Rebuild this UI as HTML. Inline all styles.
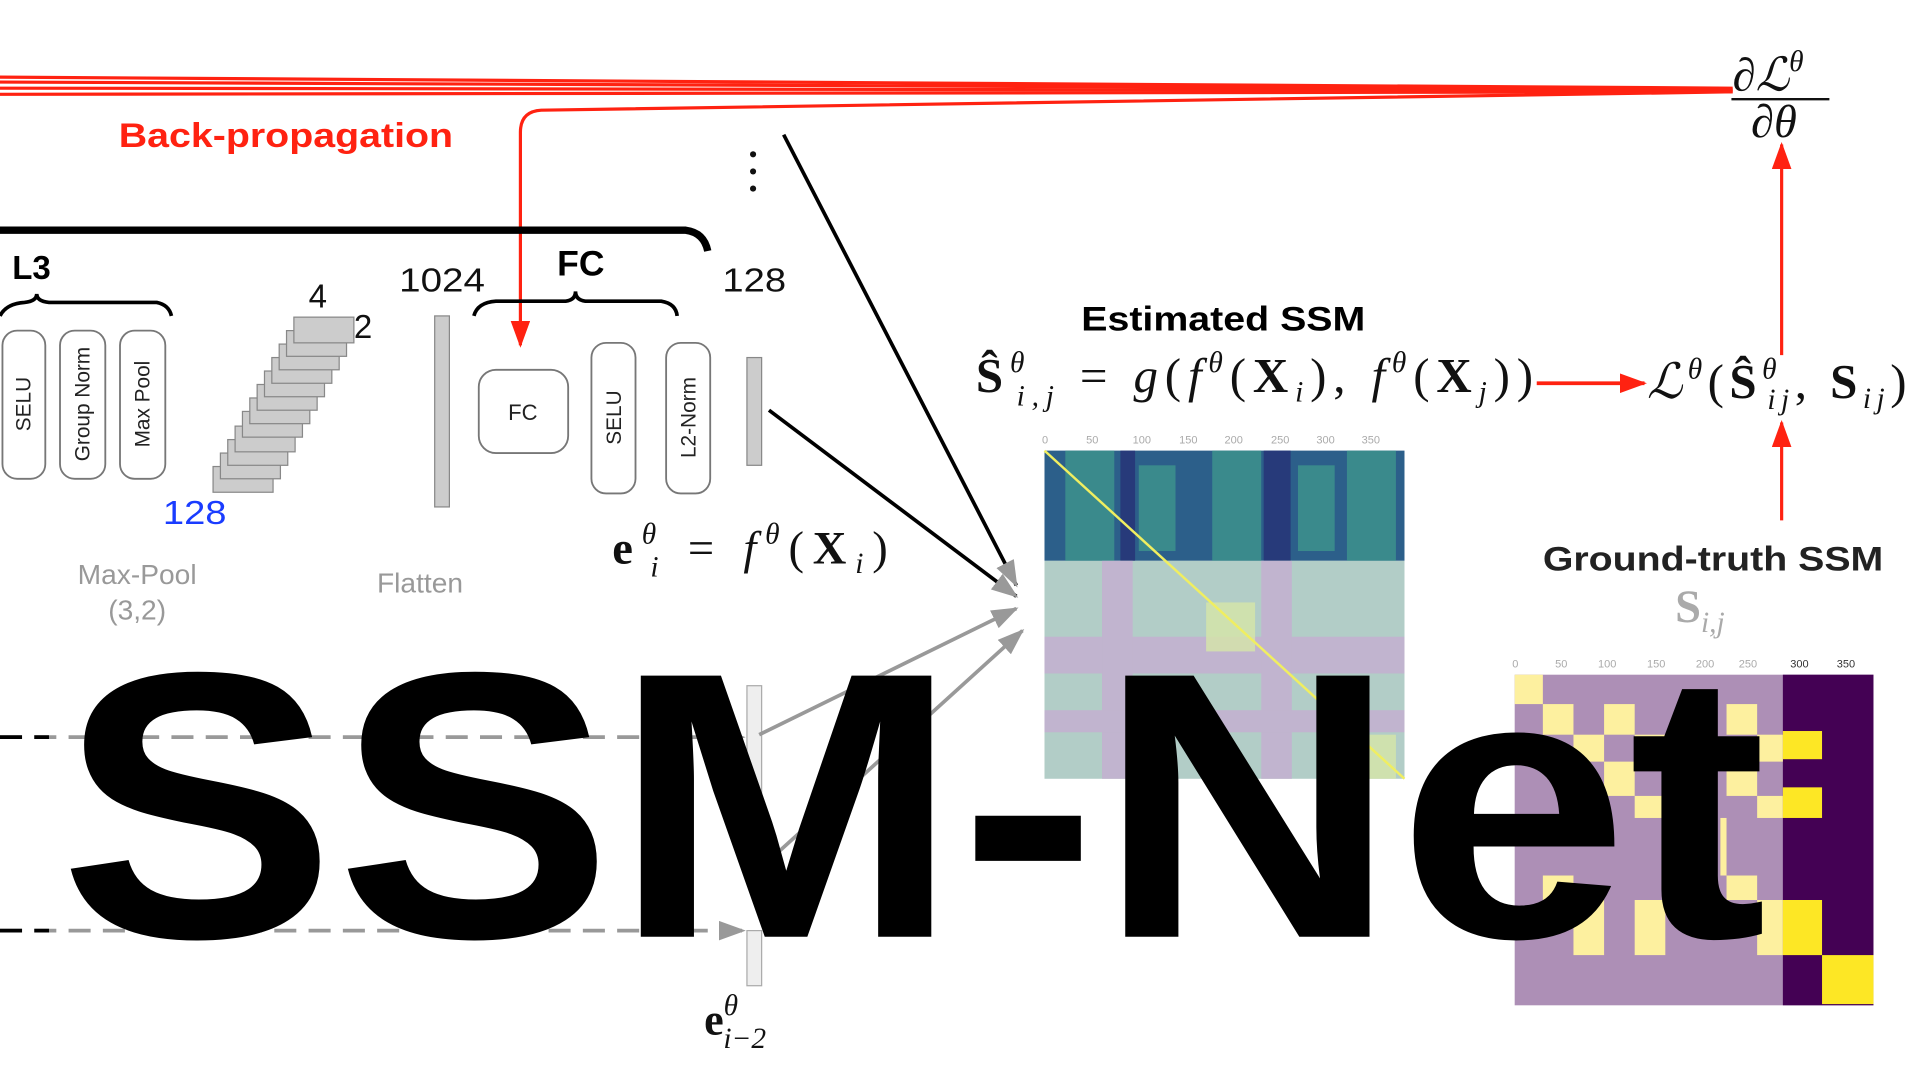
<!DOCTYPE html>
<html><head><meta charset="utf-8"><style>
html,body{margin:0;padding:0;background:#fff;width:1920px;height:1080px;overflow:hidden}
svg{display:block}
.s{font-family:"Liberation Sans",sans-serif}
.m{font-family:"Liberation Serif",serif}
</style></head><body>
<svg width="1920" height="1080" viewBox="0 0 1568 882" xmlns="http://www.w3.org/2000/svg">
<defs>
<marker id="ag" markerWidth="22" markerHeight="16" refX="20" refY="8" orient="auto" markerUnits="userSpaceOnUse"><path d="M0,0 L22,8 L0,16 z" fill="#999"/></marker>
<marker id="arr" markerWidth="22" markerHeight="16" refX="20" refY="8" orient="auto" markerUnits="userSpaceOnUse"><path d="M0,0 L22,8 L0,16 z" fill="#f21"/></marker>
</defs>
<g stroke="#f21" stroke-width="2.6" fill="none">
<path d="M0,63 L1415,72"/><path d="M0,67 L1415,73"/><path d="M0,72 L1415,74"/><path d="M0,77 L1415,75"/>
<path d="M1415,75 L442,90 Q425,91 425,108 L425,282" marker-end="url(#arr)"/>
<path d="M1455,290 L1455,118" marker-end="url(#arr)"/>
<path d="M1455,425 L1455,345" marker-end="url(#arr)"/>
<path d="M1255,313 L1343,313" marker-end="url(#arr)" stroke-width="3"/>
</g>
<text x="97" y="120" class="s" font-weight="bold" font-size="28" fill="#f21" textLength="273" lengthAdjust="spacingAndGlyphs">Back-propagation</text>
<g stroke="#000" fill="none">
<path d="M0,188 L560,188 Q575,190 578,205" stroke-width="6"/>
<path d="M0,258 Q5,248 20,247 Q30,246 30,240 Q30,246 40,247 L128,247 Q138,249 140,258" stroke-width="3"/>
<path d="M387,258 Q390,247 405,246 L462,246 Q470,245 470,238 Q470,245 478,246 L540,246 Q552,248 553,258" stroke-width="3"/>
</g>
<text x="10" y="228" class="s" font-weight="bold" font-size="27">L3</text>
<text x="455" y="225" class="s" font-weight="bold" font-size="29">FC</text>
<g fill="#fff" stroke="#777" stroke-width="1.5">
<rect x="2" y="270" width="35" height="121" rx="12"/>
<rect x="49" y="270" width="37" height="121" rx="12"/>
<rect x="98" y="270" width="37" height="121" rx="12"/>
<rect x="391" y="302" width="73" height="68" rx="14"/>
<rect x="483" y="280" width="36" height="123" rx="12"/>
<rect x="544" y="280" width="36" height="123" rx="12"/>
</g>
<g class="s" font-size="17" fill="#222" text-anchor="middle">
<text transform="translate(25,330) rotate(-90)">SELU</text>
<text transform="translate(73,330) rotate(-90)">Group Norm</text>
<text transform="translate(122,330) rotate(-90)">Max Pool</text>
<text transform="translate(507,341) rotate(-90)">SELU</text>
<text transform="translate(568,341) rotate(-90)">L2-Norm</text>
<text x="427" y="343" font-size="18">FC</text>
</g>
<g fill="#ccc" stroke="#888" stroke-width="1">
<rect x="174" y="381" width="49" height="21"/>
<rect x="180" y="370" width="49" height="21"/>
<rect x="186" y="359" width="49" height="21"/>
<rect x="192" y="348" width="49" height="21"/>
<rect x="198" y="336" width="49" height="21"/>
<rect x="204" y="325" width="49" height="21"/>
<rect x="210" y="314" width="49" height="21"/>
<rect x="216" y="303" width="49" height="21"/>
<rect x="222" y="292" width="49" height="21"/>
<rect x="228" y="281" width="49" height="21"/>
<rect x="234" y="270" width="49" height="21"/>
<rect x="240" y="259" width="49" height="21"/>
<rect x="355" y="258" width="12" height="156"/>
<rect x="610" y="292" width="12" height="88"/>
</g>
<g fill="#eee" stroke="#aaa"><rect x="610" y="560" width="12" height="88"/><rect x="610" y="760" width="12" height="45"/></g>
<g class="s" font-size="27" fill="#111">
<text x="252" y="251">4</text><text x="289" y="276">2</text>
<text x="326" y="238" textLength="70" lengthAdjust="spacingAndGlyphs">1024</text><text x="590" y="238" textLength="52" lengthAdjust="spacingAndGlyphs">128</text>
<text x="133" y="428" fill="#1a3cff" textLength="52" lengthAdjust="spacingAndGlyphs">128</text>
</g>
<g class="s" font-size="23" fill="#999" text-anchor="middle">
<text x="112" y="477">Max-Pool</text><text x="112" y="506">(3,2)</text><text x="343" y="484">Flatten</text>
</g>
<g fill="#111"><circle cx="615" cy="126" r="2.5"/><circle cx="615" cy="140" r="2.5"/><circle cx="615" cy="154" r="2.5"/></g>
<g fill="none" stroke-width="3">
<path d="M640,110 L830,478" stroke="#000" marker-end="url(#ag)"/>
<path d="M628,335 L830,487" stroke="#000" marker-end="url(#ag)"/>
<path d="M620,600 L830,497" stroke="#999" marker-end="url(#ag)"/>
<path d="M620,710 L835,515" stroke="#999" marker-end="url(#ag)"/>
<path d="M0,602 L607,602" stroke="#999" stroke-dasharray="18,10" marker-end="url(#ag)"/>
<path d="M0,760 L607,760" stroke="#999" stroke-dasharray="18,10" marker-end="url(#ag)"/>
<path d="M0,602 L40,602 M0,760 L40,760" stroke="#000" stroke-dasharray="18,10"/>
</g>
<g class="m" fill="#111">
<text x="500" y="460" font-size="38" textLength="225" lengthAdjust="spacing"><tspan font-weight="bold">e</tspan><tspan font-size="24" dy="-16" font-style="italic">θ</tspan><tspan font-size="24" dx="-12" dy="27" font-style="italic">i</tspan><tspan dy="-11"> = </tspan><tspan font-style="italic">f</tspan><tspan font-size="24" dy="-16" font-style="italic">θ</tspan><tspan dy="16">(</tspan><tspan font-weight="bold">X</tspan><tspan font-size="24" dy="8" font-style="italic">i</tspan><tspan dy="-8">)</tspan></text>
<text x="575" y="845" font-size="36"><tspan font-weight="bold">e</tspan><tspan font-size="24" dy="-16" font-style="italic">θ</tspan><tspan font-size="24" dx="-12" dy="27" font-style="italic">i−2</tspan></text>
<text x="797" y="320" font-size="40" textLength="455" lengthAdjust="spacing"><tspan font-weight="bold">Ŝ</tspan><tspan font-size="24" dy="-16" font-style="italic">θ</tspan><tspan font-size="24" dx="-12" dy="27" font-style="italic">i,j</tspan><tspan dy="-11"> = </tspan><tspan font-style="italic">g</tspan>(<tspan font-style="italic">f</tspan><tspan font-size="24" dy="-16" font-style="italic">θ</tspan><tspan dy="16">(</tspan><tspan font-weight="bold">X</tspan><tspan font-size="24" dy="8" font-style="italic">i</tspan><tspan dy="-8">), </tspan><tspan font-style="italic">f</tspan><tspan font-size="24" dy="-16" font-style="italic">θ</tspan><tspan dy="16">(</tspan><tspan font-weight="bold">X</tspan><tspan font-size="24" dy="8" font-style="italic">j</tspan><tspan dy="-8">))</tspan></text>
<text x="1345" y="325" font-size="40" textLength="212" lengthAdjust="spacing"><tspan font-style="italic">ℒ</tspan><tspan font-size="24" dy="-16" font-style="italic">θ</tspan><tspan dy="16">(</tspan><tspan font-weight="bold">Ŝ</tspan><tspan font-size="24" dy="-16" font-style="italic">θ</tspan><tspan font-size="24" dx="-12" dy="25" font-style="italic">ij</tspan><tspan dy="-9">, </tspan><tspan font-weight="bold">S</tspan><tspan font-size="24" dy="8" font-style="italic">ij</tspan><tspan dy="-8">)</tspan></text>
<text x="1415" y="74" font-size="38"><tspan font-style="italic">∂ℒ</tspan><tspan font-size="24" dy="-16" font-style="italic">θ</tspan></text>
<text x="1430" y="112" font-size="38" font-style="italic">∂θ</text>
<text x="1368" y="508" font-size="38" fill="#aaa"><tspan font-weight="bold">S</tspan><tspan font-size="24" dy="8" font-style="italic">i,j</tspan></text>
</g>
<line x1="1414" y1="81" x2="1494" y2="81" stroke="#111" stroke-width="2"/>
<text x="883" y="270" class="s" font-weight="bold" font-size="28" textLength="232" lengthAdjust="spacingAndGlyphs">Estimated SSM</text>
<text x="1260" y="466" class="s" font-weight="bold" font-size="28" fill="#222" textLength="278" lengthAdjust="spacingAndGlyphs">Ground-truth SSM</text>
<rect x="853" y="368" width="294" height="90" fill="#2c5f8a"/>
<g fill="#3a8a8c"><rect x="870" y="368" width="40" height="90"/><rect x="930" y="380" width="30" height="70"/><rect x="990" y="368" width="40" height="90"/><rect x="1060" y="380" width="30" height="70"/><rect x="1100" y="368" width="40" height="90"/></g>
<g fill="#273a7a"><rect x="915" y="368" width="12" height="90"/><rect x="1032" y="368" width="22" height="90"/></g>
<rect x="853" y="458" width="294" height="178" fill="#b2cdc7"/>
<g fill="#c1b4cf"><rect x="853" y="520" width="294" height="30"/><rect x="900" y="458" width="25" height="178"/><rect x="1030" y="458" width="25" height="178"/><rect x="853" y="580" width="294" height="18"/></g>
<g fill="#d6e6a8" opacity="0.8"><rect x="985" y="492" width="40" height="40"/><rect x="1100" y="600" width="40" height="36"/></g>
<line x1="853" y1="368" x2="1147" y2="636" stroke="#f0ee60" stroke-width="2"/>
<g class="s" font-size="9" fill="#aaa"><text x="851" y="362">0</text><text x="887" y="362">50</text><text x="925" y="362">100</text><text x="963" y="362">150</text><text x="1000" y="362">200</text><text x="1038" y="362">250</text><text x="1075" y="362">300</text><text x="1112" y="362">350</text></g>
<rect x="1237" y="551" width="293" height="270" fill="#ad8fb6"/>
<rect x="1456" y="551" width="74" height="270" fill="#440154"/>
<g fill="#fdf09f">
<rect x="1237" y="551" width="23" height="24"/>
<rect x="1260" y="575" width="25" height="25"/><rect x="1310" y="575" width="25" height="25"/><rect x="1410" y="575" width="25" height="25"/>
<rect x="1285" y="600" width="25" height="22"/><rect x="1335" y="600" width="25" height="22"/><rect x="1435" y="600" width="21" height="22"/>
<rect x="1310" y="622" width="25" height="28"/><rect x="1410" y="622" width="25" height="28"/>
<rect x="1335" y="650" width="25" height="18"/><rect x="1435" y="650" width="21" height="18"/>
<rect x="1405" y="668" width="5" height="47"/>
<rect x="1260" y="715" width="25" height="20"/><rect x="1410" y="715" width="25" height="20"/>
<rect x="1285" y="735" width="25" height="45"/><rect x="1335" y="735" width="25" height="45"/><rect x="1435" y="735" width="21" height="45"/>
</g>
<g fill="#fde725">
<rect x="1456" y="597" width="32" height="23"/><rect x="1456" y="643" width="32" height="25"/><rect x="1456" y="735" width="32" height="45"/><rect x="1488" y="780" width="42" height="40"/>
</g>
<g class="s" font-size="9" fill="#aaa"><text x="1235" y="545">0</text><text x="1270" y="545">50</text><text x="1305" y="545">100</text><text x="1345" y="545">150</text><text x="1385" y="545">200</text><text x="1420" y="545">250</text><text x="1462" y="545" fill="#333">300</text><text x="1500" y="545" fill="#333">350</text></g>
<text x="48" y="765" class="s" font-weight="bold" font-size="310" textLength="1395" lengthAdjust="spacingAndGlyphs" fill="#000">SSM-Net</text>
</svg>
</body></html>
